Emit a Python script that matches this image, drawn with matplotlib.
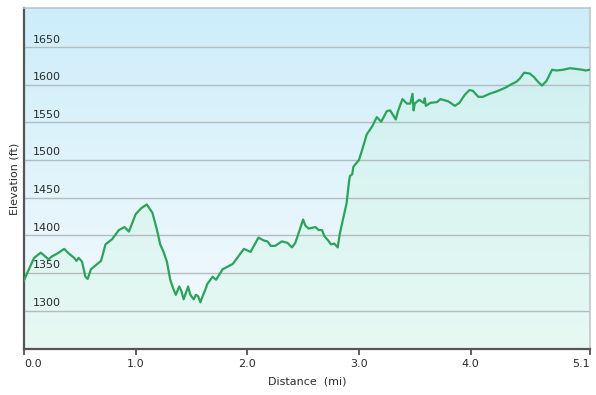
import numpy as np
import matplotlib
matplotlib.use("Agg")
import matplotlib.pyplot as plt

# elevation profile
distance_mi = [0.00, 0.02, 0.09, 0.15, 0.19, 0.22, 0.25, 0.30, 0.36, 0.40,
               0.45, 0.47, 0.49, 0.52, 0.55, 0.57, 0.60, 0.64, 0.69, 0.73,
               0.79, 0.85, 0.90, 0.94, 1.00, 1.05, 1.10, 1.15, 1.19, 1.22,
               1.25, 1.28, 1.31, 1.34, 1.36, 1.39, 1.41, 1.43, 1.47, 1.49,
               1.52, 1.54, 1.56, 1.58, 1.60, 1.63, 1.64, 1.69, 1.72, 1.78,
               1.87, 1.97, 2.03, 2.10, 2.15, 2.18, 2.21, 2.25, 2.31, 2.36,
               2.40, 2.43, 2.46, 2.50, 2.52, 2.55, 2.61, 2.64, 2.67, 2.69,
               2.72, 2.75, 2.78, 2.81, 2.83, 2.86, 2.89, 2.91, 2.92, 2.94,
               2.95, 3.00, 3.03, 3.07, 3.12, 3.16, 3.20, 3.25, 3.28, 3.33,
               3.35, 3.39, 3.43, 3.46, 3.48, 3.49, 3.50, 3.54, 3.58, 3.59,
               3.60, 3.64, 3.70, 3.73, 3.80, 3.86, 3.90, 3.95, 3.99, 4.02,
               4.07, 4.11, 4.17, 4.23, 4.31, 4.37, 4.41, 4.44, 4.48, 4.53,
               4.57, 4.61, 4.64, 4.68, 4.73, 4.77, 4.83, 4.89, 4.95, 5.00,
               5.03, 5.07]
elevation_ft = [1340, 1347, 1370, 1377, 1372, 1368, 1372, 1376, 1382, 1376,
                1370, 1366, 1370, 1365, 1345, 1342, 1355, 1360, 1366, 1388,
                1395, 1407, 1411, 1405, 1428, 1436, 1441, 1430, 1408, 1388,
                1378, 1365, 1341, 1328, 1321, 1332, 1326, 1315, 1332, 1321,
                1315, 1321, 1319, 1311, 1319, 1330, 1335, 1345, 1341, 1355,
                1362, 1382, 1378, 1397, 1393, 1392, 1386, 1386, 1392, 1390,
                1384, 1390, 1403, 1421, 1413, 1409, 1411, 1407, 1407, 1399,
                1394, 1388, 1389, 1384, 1403, 1423, 1443, 1470, 1479, 1481,
                1491, 1500, 1514, 1534, 1545, 1557, 1551, 1565, 1566, 1554,
                1565, 1581, 1575, 1575, 1588, 1566, 1575, 1580, 1576, 1582,
                1572, 1576, 1577, 1581, 1578, 1572, 1576, 1587, 1593, 1592,
                1584, 1584, 1588, 1591, 1596, 1601, 1604, 1608, 1616, 1615,
                1610, 1603, 1599, 1605, 1620, 1619, 1620, 1622, 1621, 1620,
                1619, 1620]

y_grid = [1300, 1350, 1400, 1450, 1500, 1550, 1600, 1650]
x_ticks = [0, 1, 2, 3, 4, 5.07]
x_tick_labels = ["0.0", "1.0", "2.0", "3.0", "4.0", "5.1"]

x_min, x_max = 0, 5.07
y_min, y_max = 1249, 1702

fig = plt.figure(figsize=(5.96, 3.95), dpi=100)
ax = fig.add_axes([24 / 596, 46 / 395, 566 / 596, 341 / 395])

# light blue background gradient
top = np.array([205, 237, 250]) / 255
bottom = np.array([246, 251, 253]) / 255
t = np.linspace(0, 1, 256)[:, None]
grad = top * (1 - t) + bottom * t
ax.imshow(grad[:, None, :], extent=[x_min, x_max, y_min, y_max],
          aspect="auto", origin="upper", zorder=0)

ax.fill_between(distance_mi, elevation_ft, y_min, color="#c8f5dc",
                alpha=0.3, linewidth=0, zorder=1)

for v in y_grid:
    ax.axhline(v, color="#b3bcc0", linewidth=1, zorder=2)
    ax.annotate(str(v), xy=(0, v), xycoords=("axes fraction", "data"),
                xytext=(6, 3.3), textcoords="offset points",
                ha="left", va="baseline", fontsize=8, color="#2a2a2a", zorder=4)

ax.plot(distance_mi, elevation_ft, color="#2ba35a", linewidth=1.6, zorder=3)

ax.set_xlim(x_min, x_max)
ax.set_ylim(y_min, y_max)

ax.set_xticks(x_ticks)
ax.set_xticklabels(x_tick_labels, fontsize=8, color="#2a2a2a")
labels = ax.get_xticklabels()
labels[0].set_horizontalalignment("left")
labels[-1].set_horizontalalignment("right")
ax.tick_params(axis="x", length=4, width=1.2, color="#444444", pad=3.5)
ax.set_yticks([])

for side in ["left", "bottom"]:
    ax.spines[side].set_color("#555555")
    ax.spines[side].set_linewidth(1.6)
for side in ["top", "right"]:
    ax.spines[side].set_color("#bfc6ca")
    ax.spines[side].set_linewidth(1.2)

ax.set_xlabel("Distance  (mi)", fontsize=8, color="#2a2a2a", labelpad=5)
ax.set_ylabel("Elevation (ft)", fontsize=8, color="#2a2a2a", labelpad=3)

fig.savefig("out.png", dpi=100)
